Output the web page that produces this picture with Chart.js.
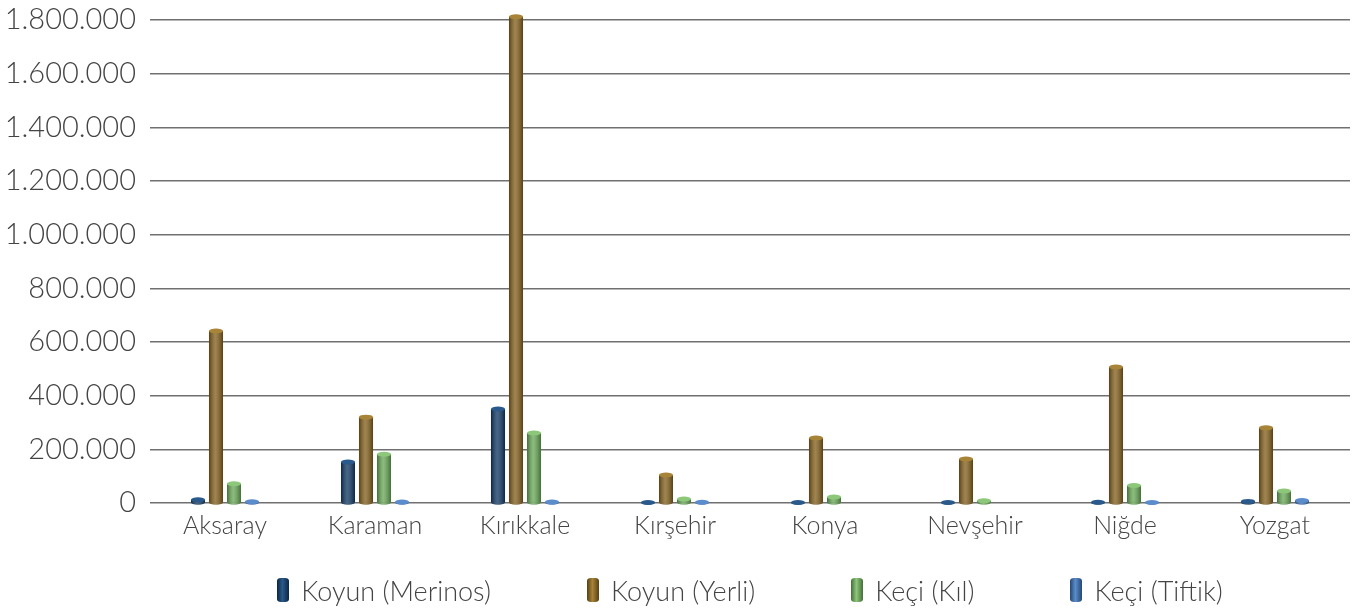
<!DOCTYPE html>
<html>
<head>
<meta charset="utf-8">
<script src="https://cdn.jsdelivr.net/npm/chart.js@4"></script>
<style>
  html, body { margin: 0; padding: 0; background: #fff; }
  #wrap { position: relative; width: 1365px; height: 608px; }
  #legend {
    position: absolute; left: 150px; width: 1200px; top: 576px; height: 28px;
    display: flex; justify-content: center; align-items: center; gap: 96px;
    font-family: Lato, sans-serif; font-weight: 300; font-size: 27px; color: #444;
  }
  .legend-item { display: flex; align-items: center; gap: 12px; white-space: nowrap; }
  .legend-box { width: 12px; height: 24px; border-radius: 4px / 3px; }
</style>
</head>
<body>
<div id="wrap">
  <canvas id="hayvanChart" width="1365" height="608"></canvas>
  <div id="legend"></div>
</div>
<script>
// İller
const iller = ['Aksaray', 'Karaman', 'Kırıkkale', 'Kırşehir', 'Konya', 'Nevşehir', 'Niğde', 'Yozgat'];

// Seriler (resimden okunan yaklaşık değerler)
const koyunMerinos = [12000, 153000, 350000, 2000, 2000, 2000, 3000, 6000];
const koyunYerli   = [641000, 320000, 1812000, 104000, 242000, 164000, 507000, 280000];
const keciKil      = [72000, 182000, 261000, 15000, 22000, 8000, 65000, 45000];
const keciTiftik   = [5000, 4000, 4000, 3000, 0, 0, 2000, 9000];

const yMax = 1800000;
const yStep = 200000;

function noktali(n) {
    return String(n).replace(/\B(?=(\d{3})+(?!\d))/g, '.');
}

// Silindir görünümü için bar üstüne gölge + kapak
const silindirPlugin = {
    id: 'silindir',
    afterDatasetsDraw(chart) {
        const c = chart.ctx;
        chart.data.datasets.forEach((ds, di) => {
            const meta = chart.getDatasetMeta(di);
            if (meta.hidden) return;
            meta.data.forEach((bar, i) => {
                if (!ds.data[i]) return;
                const p = bar.getProps(['x', 'y', 'base', 'width'], true);
                const left = p.x - p.width / 2;
                const right = p.x + p.width / 2;
                const g = c.createLinearGradient(left, 0, right, 0);
                g.addColorStop(0, 'rgba(0,0,0,0.35)');
                g.addColorStop(0.45, 'rgba(255,255,255,0.22)');
                g.addColorStop(1, 'rgba(0,0,0,0.35)');
                c.save();
                c.fillStyle = g;
                c.fillRect(left, p.y, p.width, p.base - p.y);
                const ry = 2.5;
                // alt elips
                c.beginPath();
                c.ellipse(p.x, p.base, p.width / 2, ry, 0, 0, Math.PI);
                c.fillStyle = ds.backgroundColor;
                c.fill();
                c.fillStyle = g;
                c.fill();
                // üst kapak
                c.beginPath();
                c.ellipse(p.x, p.y, p.width / 2, ry, 0, 0, Math.PI * 2);
                c.fillStyle = ds.capColor;
                c.fill();
                c.restore();
            });
        });
    }
};

const ctx = document.getElementById('hayvanChart').getContext('2d');

const hayvanChart = new Chart(ctx, {
    type: 'bar',
    data: {
        labels: iller,
        datasets: [{
            label: 'Koyun (Merinos)',
            data: koyunMerinos,
            backgroundColor: '#123a66',
            capColor: '#2a5a8c'
        }, {
            label: 'Koyun (Yerli)',
            data: koyunYerli,
            backgroundColor: '#85621e',
            capColor: '#a88438'
        }, {
            label: 'Keçi (Kıl)',
            data: keciKil,
            backgroundColor: '#6aaa58',
            capColor: '#8cc77a'
        }, {
            label: 'Keçi (Tiftik)',
            data: keciTiftik,
            backgroundColor: '#3a6eb0',
            capColor: '#5b8ccc'
        }]
    },
    options: {
        responsive: false,
        animation: false,
        devicePixelRatio: 1,
        layout: {
            padding: { top: 20, right: 15, left: 0, bottom: 55 }
        },
        datasets: {
            bar: {
                categoryPercentage: 0.48,
                barPercentage: 0.78,
                clip: false
            }
        },
        plugins: {
            legend: { display: false },
            tooltip: { enabled: false }
        },
        scales: {
            y: {
                min: 0,
                max: yMax,
                afterFit: function(axis) {
                    axis.width = 150;
                    axis.paddingTop = 0;
                    axis.paddingBottom = 0;
                },
                border: { display: false },
                grid: {
                    color: '#707070',
                    lineWidth: 1.6,
                    drawTicks: false
                },
                ticks: {
                    stepSize: yStep,
                    padding: 14,
                    color: '#444',
                    font: { size: 29, weight: '300', family: 'Lato, sans-serif' },
                    callback: function(v) { return noktali(v); }
                }
            },
            x: {
                border: { display: false },
                grid: { display: false },
                ticks: {
                    padding: 0,
                    color: '#444',
                    font: { size: 25, weight: '300', family: 'Lato, sans-serif' }
                },
                afterFit: function(axis) { axis.height = 50; }
            }
        }
    },
    plugins: [silindirPlugin]
});

// HTML lejant, veri setlerinden
const legendEl = document.getElementById('legend');
hayvanChart.data.datasets.forEach(function(ds) {
    const item = document.createElement('div');
    item.className = 'legend-item';
    const box = document.createElement('span');
    box.className = 'legend-box';
    box.style.background = 'linear-gradient(to right, rgba(0,0,0,0.35), ' + ds.capColor + ' 45%, rgba(0,0,0,0.35)), ' + ds.backgroundColor;
    box.style.backgroundColor = ds.backgroundColor;
    const txt = document.createElement('span');
    txt.textContent = ds.label;
    item.appendChild(box);
    item.appendChild(txt);
    legendEl.appendChild(item);
});
</script>
</body>
</html>
